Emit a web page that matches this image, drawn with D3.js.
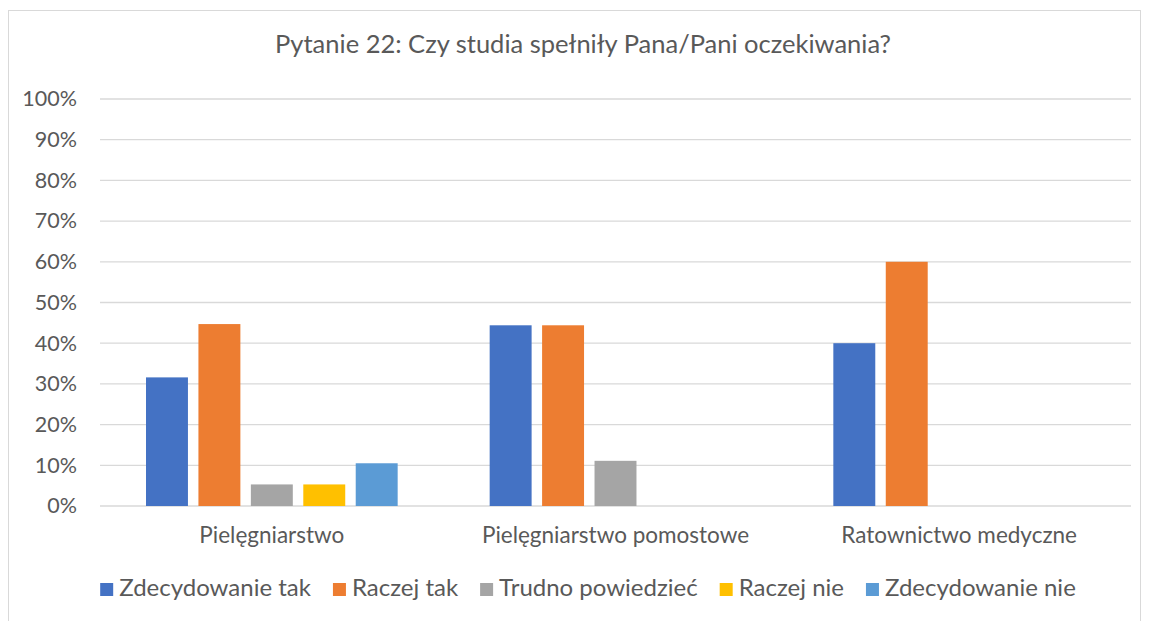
<!DOCTYPE html>
<html>
<head>
<meta charset="utf-8">
<script src="https://cdn.jsdelivr.net/npm/d3@7"></script>
<style>
  body { margin: 0; background: #fff; }
  text { font-family: Lato, "Noto Sans", sans-serif; fill: #595959; }
</style>
</head>
<body>
<svg id="chart" width="1149" height="621"></svg>
<script>
// chart data
var title = "Pytanie 22: Czy studia spełniły Pana/Pani oczekiwania?";
var categories = ["Pielęgniarstwo", "Pielęgniarstwo pomostowe", "Ratownictwo medyczne"];
var series = ["Zdecydowanie tak", "Raczej tak", "Trudno powiedzieć", "Raczej nie", "Zdecydowanie nie"];
var zdecydowanieTak = [0.316, 0.444, 0.40];
var raczejTak = [0.447, 0.444, 0.60];
var trudnoPowiedziec = [0.053, 0.111, 0];
var raczejNie = [0.053, 0, 0];
var zdecydowanieNie = [0.105, 0, 0];
var yTicks = [0, 0.1, 0.2, 0.3, 0.4, 0.5, 0.6, 0.7, 0.8, 0.9, 1.0];
var colors = ["#4472C4", "#ED7D31", "#A5A5A5", "#FFC000", "#5B9BD5"];

var values = [zdecydowanieTak, raczejTak, trudnoPowiedziec, raczejNie, zdecydowanieNie];

var svg = d3.select("#chart");

// outer frame
svg.append("rect")
    .attr("x", 8.5).attr("y", 10.5)
    .attr("width", 1132).attr("height", 640)
    .attr("fill", "none")
    .attr("stroke", "#d9d9d9");

var plotLeft = 100, plotRight = 1131, plotTop = 99, plotBottom = 506;

var y = d3.scaleLinear().domain([0, 1]).range([plotBottom, plotTop]);
var x0 = d3.scaleBand().domain(categories).range([plotLeft, plotRight]).padding(0);
var groupPad = 46;
var x1 = d3.scaleBand().domain(series)
    .range([groupPad, x0.bandwidth() - groupPad])
    .paddingInner(0.2).paddingOuter(0);

// title
svg.append("text")
    .attr("x", 583).attr("y", 53)
    .attr("text-anchor", "middle")
    .style("font-size", "25.5px")
    .text(title);

// gridlines
svg.append("g").selectAll("line")
    .data(yTicks)
    .enter().append("line")
    .attr("x1", plotLeft).attr("x2", plotRight)
    .attr("y1", function(d) { return y(d); })
    .attr("y2", function(d) { return y(d); })
    .attr("stroke", "#d9d9d9")
    .attr("stroke-width", 1.3);

// y axis labels
var yAxis = d3.axisLeft(y).tickValues(yTicks).tickFormat(d3.format(".0%")).tickSize(0).tickPadding(0);
var yg = svg.append("g").attr("transform", "translate(77,0)").call(yAxis);
yg.select(".domain").remove();
yg.selectAll("text")
    .style("font-size", "21.5px")
    .style("font-family", "Lato, sans-serif")
    .attr("fill", "#595959");

// bars
var groups = svg.append("g").selectAll("g")
    .data(categories)
    .enter().append("g")
    .attr("transform", function(d) { return "translate(" + x0(d) + ",0)"; });

groups.selectAll("rect")
    .data(function(d, i) { return series.map(function(s, j) { return { s: s, v: values[j][i], c: colors[j] }; }); })
    .enter().append("rect")
    .attr("x", function(d) { return x1(d.s); })
    .attr("width", x1.bandwidth())
    .attr("y", function(d) { return y(d.v); })
    .attr("height", function(d) { return plotBottom - y(d.v); })
    .attr("fill", function(d) { return d.c; });

// category labels
var xAxis = d3.axisBottom(x0).tickSize(0).tickPadding(0);
var xg = svg.append("g").attr("transform", "translate(0,527)").call(xAxis);
xg.select(".domain").remove();
xg.selectAll("text")
    .style("font-size", "22.5px")
    .style("font-family", "Lato, sans-serif")
    .attr("fill", "#595959");

// legend, laid out from measured text widths and centred
var legend = svg.append("g");
var items = legend.selectAll("g")
    .data(series)
    .enter().append("g");
items.append("rect")
    .attr("y", 583)
    .attr("width", 13).attr("height", 13)
    .attr("fill", function(d, i) { return colors[i]; });
items.append("text")
    .attr("x", 19).attr("y", 596)
    .style("font-size", "24px")
    .text(function(d) { return d; });

var gap = 22, pos = 0, offsets = [];
items.each(function() {
    offsets.push(pos);
    var w = d3.select(this).select("text").node().getComputedTextLength();
    pos += 19 + w + gap;
});
var total = pos - gap;
var startX = 588 - total / 2;
items.attr("transform", function(d, i) { return "translate(" + (startX + offsets[i]) + ",0)"; });
</script>
</body>
</html>
